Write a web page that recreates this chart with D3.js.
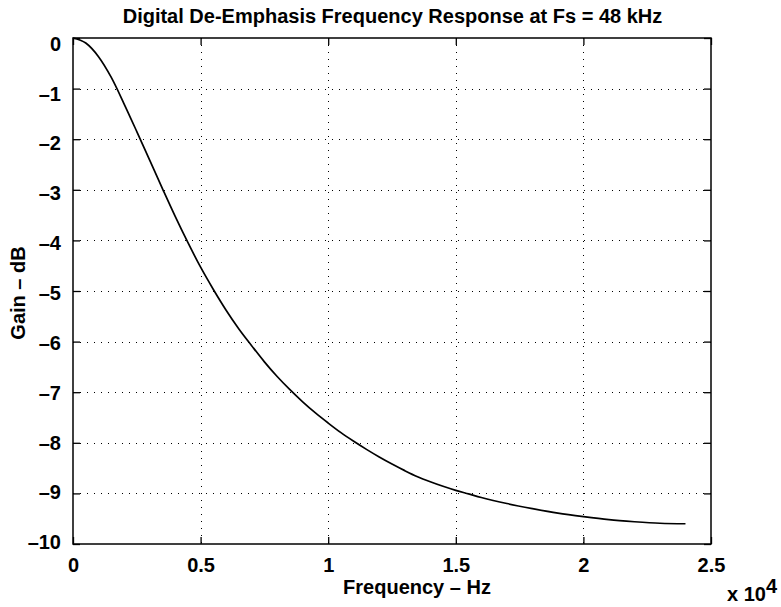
<!DOCTYPE html>
<html><head><meta charset="utf-8">
<script src="https://cdn.jsdelivr.net/npm/d3@7"></script>
<style>body{margin:0;background:#fff}svg{display:block}text{font-family:"Liberation Sans",Arial,sans-serif;font-weight:bold;fill:#000}</style>
</head><body>
<svg id="c" width="781" height="607"></svg>
<script>
const freqHz = [0,500,1000,1500,2000,2500,3000,3500,4000,4500,5000,5500,6000,6500,7000,7500,8000,8500,9000,9500,10000,10500,11000,11500,12000,12500,13000,13500,14000,14500,15000,15500,16000,17000,18000,19000,20000,21000,22000,23000,24000];
const gainDb = [0,-0.1,-0.37,-0.78,-1.3,-1.85,-2.41,-2.97,-3.52,-4.04,-4.53,-4.97,-5.38,-5.75,-6.08,-6.4,-6.69,-6.95,-7.19,-7.41,-7.61,-7.8,-7.97,-8.13,-8.28,-8.42,-8.55,-8.67,-8.77,-8.86,-8.94,-9.01,-9.08,-9.2,-9.3,-9.39,-9.46,-9.52,-9.56,-9.59,-9.6];
const xTicks = [0,0.5,1,1.5,2,2.5];
const xTickLabels = ["0","0.5","1","1.5","2","2.5"];
const yTicks = [0,-1,-2,-3,-4,-5,-6,-7,-8,-9,-10];
const yTickLabels = ["0","\u20131","\u20132","\u20133","\u20134","\u20135","\u20136","\u20137","\u20138","\u20139","\u201310"];

const svg = d3.select("#c");
const L=73,R=711,T=38,B=544;
const x = d3.scaleLinear().domain([0,2.5]).range([L,R]);
const y = d3.scaleLinear().domain([-10,0]).range([B,T]);
const FS = 20;

// grid
const g = svg.append("g");
g.selectAll(".vg").data(xTicks.slice(1,-1)).enter().append("line")
 .attr("x1",d=>Math.round(x(d))+0.5).attr("x2",d=>Math.round(x(d))+0.5).attr("y1",T).attr("y2",B)
 .attr("stroke","#000").attr("stroke-width",1).attr("stroke-dasharray","1,6");
g.selectAll(".hg").data(yTicks.slice(1,-1)).enter().append("line")
 .attr("y1",d=>Math.round(y(d))+0.5).attr("y2",d=>Math.round(y(d))+0.5).attr("x1",L).attr("x2",R)
 .attr("stroke","#000").attr("stroke-width",1).attr("stroke-dasharray","1,6");

// axes with inward ticks
const tl=7;
svg.append("g").attr("transform",`translate(0,${B})`)
 .call(d3.axisBottom(x).tickValues(xTicks).tickSize(-tl).tickFormat((d,i)=>xTickLabels[i]))
 .call(a=>{a.select(".domain").remove();
   a.selectAll("text").attr("font-size",FS).attr("font-family","Liberation Sans, Arial, sans-serif")
    .attr("font-weight","bold").attr("dy",null).attr("y",28);});
svg.append("g").attr("transform",`translate(0,${T})`)
 .call(d3.axisTop(x).tickValues(xTicks).tickSize(-tl).tickFormat(""))
 .call(a=>a.select(".domain").remove());
svg.append("g").attr("transform",`translate(${L},0)`)
 .call(d3.axisLeft(y).tickValues(yTicks).tickSize(-tl).tickPadding(12).tickFormat((d,i)=>yTickLabels[i]))
 .call(a=>{a.select(".domain").remove();
   a.selectAll("text").attr("font-size",FS).attr("font-family","Liberation Sans, Arial, sans-serif")
    .attr("font-weight","bold").attr("dy",null)
    .attr("y",d=>{const k=-d; return (50.2+49.85*k)-y(d);});});
svg.append("g").attr("transform",`translate(${R},0)`)
 .call(d3.axisRight(y).tickValues(yTicks).tickSize(-tl).tickFormat(""))
 .call(a=>a.select(".domain").remove());
svg.selectAll(".tick line").attr("stroke","#000").attr("stroke-width",1.3);

svg.append("rect").attr("x",L).attr("y",T).attr("width",R-L).attr("height",B-T)
 .attr("fill","none").attr("stroke","#000").attr("stroke-width",1.5);

// curve
const pts = freqHz.map((f,i)=>[f/1e4,gainDb[i]]);
svg.append("path").datum(pts)
 .attr("d",d3.line().x(d=>x(d[0])).y(d=>y(d[1])).curve(d3.curveMonotoneX))
 .attr("fill","none").attr("stroke","#000").attr("stroke-width",1.7);

// texts
svg.append("text").attr("x",392.5).attr("y",23).attr("text-anchor","middle").attr("font-size",FS)
 .text("Digital De-Emphasis Frequency Response at Fs = 48 kHz");
svg.append("text").attr("x",417).attr("y",594).attr("text-anchor","middle").attr("font-size",FS)
 .text("Frequency \u2013 Hz");
svg.append("text").attr("transform","translate(25,293) rotate(-90)").attr("text-anchor","middle").attr("font-size",FS)
 .text("Gain \u2013 dB");
const e = svg.append("text").attr("x",727).attr("y",601).attr("font-size",FS);
e.append("tspan").text("x 10");
e.append("tspan").attr("dy",-8).text("4");
</script>
</body></html>
